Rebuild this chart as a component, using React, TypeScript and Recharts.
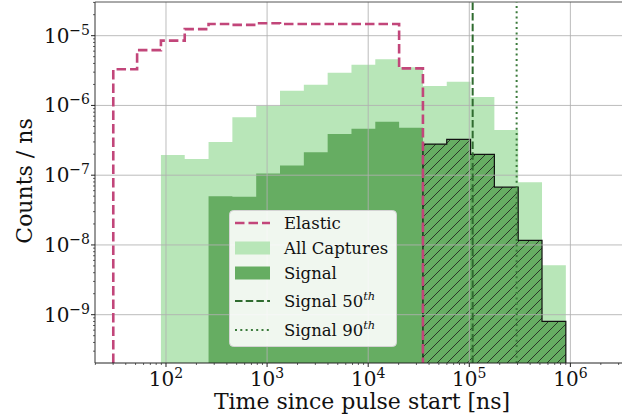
import { ComposedChart, Area, Line, XAxis, YAxis, ReferenceLine, Legend, Label } from "recharts";

const FONT = "DejaVu Serif, serif";

// histogram bin edges [ns], log spaced
const EDGES = [
  30.1, 51.8, 89.1, 153.2, 263.6, 453.5, 780.3, 1342, 2309, 3972, 6834, 11756, 20225, 34795, 59841,
  102944, 177096, 304660, 524117, 901571,
];

// counts / ns per bin (null = empty bin)
const ELASTIC = [
  3.3e-6, 6.2e-6, 8.5e-6, 1.24e-5, 1.47e-5, 1.43e-5, 1.51e-5, 1.47e-5, 1.47e-5, 1.47e-5, 1.47e-5, 1.47e-5,
  3.4e-6, null, null, null, null, null, null,
];
const ALL_CAPTURES = [
  null, null, 1.94e-7, 1.7e-7, 3.0e-7, 6.75e-7, 9.8e-7, 1.63e-6, 1.98e-6, 2.95e-6, 3.84e-6, 4.58e-6,
  3.52e-6, 1.9e-6, 2.19e-6, 1.32e-6, 4.43e-7, 7.9e-8, 5.1e-9,
];
const SIGNAL = [
  null, null, null, null, 5.0e-8, 4.9e-8, 1.06e-7, 1.38e-7, 2.14e-7, 3.89e-7, 4.63e-7, 5.83e-7, 4.79e-7,
  2.79e-7, 3.26e-7, 1.99e-7, 6.74e-8, 1.16e-8, 8.0e-10,
];
const HATCH_FROM_BIN = 13; // signal bins after the elastic cut are hatched

const SIGNAL_P50 = 1.08e5;
const SIGNAL_P90 = 2.94e5;

const X_MIN = 19.85;
const X_MAX = 3.24e6;
const Y_MIN = 2.03e-10;
const Y_MAX = 3.04e-5;

const X_MAJOR = [1e2, 1e3, 1e4, 1e5, 1e6];
const Y_MAJOR = [1e-9, 1e-8, 1e-7, 1e-6, 1e-5];

const PINK = "#c2467a";
const LIGHT_GREEN = "#b8e6b8";
const GREEN = "#66ad62";
const DARK_GREEN = "#2f6b2f";
const DOT_GREEN = "#3b7a3b";
const GRID = "#b0b0b0";

function logTicks(min: number, max: number) {
  const out: number[] = [];
  for (let d = Math.floor(Math.log10(min)); d <= Math.ceil(Math.log10(max)); d++) {
    for (let m = 1; m <= 9; m++) {
      const v = m * Math.pow(10, d);
      if (v >= min && v <= max) out.push(v);
    }
  }
  return out;
}

const isMajor = (v: number) => Math.abs(Math.log10(v) - Math.round(Math.log10(v))) < 1e-6;
const expOf = (v: number) => {
  const e = Math.round(Math.log10(v));
  return e < 0 ? `\u2212${-e}` : `${e}`;
};

// step outline points of one histogram, closed down to the axis bottom
function steps(values: (number | null)[], from = 0) {
  const pts: { t: number; v: number }[] = [];
  let last = -1;
  values.forEach((v, i) => {
    if (i < from || v == null) return;
    if (!pts.length) pts.push({ t: EDGES[i], v: Y_MIN });
    pts.push({ t: EDGES[i], v });
    last = i;
  });
  pts.push({ t: EDGES[last + 1], v: Y_MIN });
  return pts;
}

const elasticPts = steps(ELASTIC);
const allPts = steps(ALL_CAPTURES);
const signalPts = steps(SIGNAL);
const hatchPts = steps(SIGNAL, HATCH_FROM_BIN);

function XTick({ x, y, payload }: any) {
  const v = payload.value;
  const major = isMajor(v);
  return (
    <g>
      <line x1={x} x2={x} y1={y} y2={y + (major ? 4 : 2)} stroke="#222" strokeWidth={major ? 1 : 0.7} />
      {major && (
        <text x={x} y={y + 23} textAnchor="middle" fontFamily={FONT} fontSize={20} fill="#111">
          10<tspan dy={-8} fontSize={14}>{expOf(v)}</tspan>
        </text>
      )}
    </g>
  );
}

function YTick({ x, y, payload }: any) {
  const v = payload.value;
  const major = isMajor(v);
  return (
    <g>
      <line x1={x} x2={x - (major ? 4 : 2)} y1={y} y2={y} stroke="#222" strokeWidth={major ? 1 : 0.7} />
      {major && (
        <text x={x - 5} y={y + 7} textAnchor="end" fontFamily={FONT} fontSize={20} fill="#111">
          10<tspan dy={-8} fontSize={14}>{expOf(v)}</tspan>
        </text>
      )}
    </g>
  );
}

const LEGEND_ROWS = [
  { label: "Elastic", sup: "", kind: "dash", color: PINK, cy: 13 },
  { label: "All Captures", sup: "", kind: "patch", color: LIGHT_GREEN, cy: 38 },
  { label: "Signal", sup: "", kind: "patch", color: GREEN, cy: 63 },
  { label: "Signal 50", sup: "th", kind: "dash2", color: DARK_GREEN, cy: 91 },
  { label: "Signal 90", sup: "th", kind: "dot", color: DOT_GREEN, cy: 120 },
];

function LegendBox() {
  return (
    <svg width={168} height={137} style={{ display: "block" }}>
      <rect x={0.5} y={0.5} width={167} height={136} rx={4} fill="#fff" fillOpacity={0.9} stroke="#d4d4d4" />
      {LEGEND_ROWS.map((r) => (
        <g key={r.label}>
          {r.kind === "patch" && <rect x={6} y={r.cy - 6.5} width={35} height={13} fill={r.color} />}
          {r.kind === "dash" && (
            <line x1={6} x2={41} y1={r.cy} y2={r.cy} stroke={r.color} strokeWidth={2.6} strokeDasharray="9.5 4" />
          )}
          {r.kind === "dash2" && (
            <line x1={6} x2={41} y1={r.cy} y2={r.cy} stroke={r.color} strokeWidth={2} strokeDasharray="7.5 3.2" />
          )}
          {r.kind === "dot" && (
            <line x1={6} x2={41} y1={r.cy} y2={r.cy} stroke={r.color} strokeWidth={2} strokeDasharray="2 3.3" />
          )}
          <text x={55} y={r.cy + 6} fontFamily={FONT} fontSize={16.5} fill="#111">
            {r.label}
            {r.sup && (
              <tspan dy={-7} fontSize={11.5} fontStyle="italic">
                {r.sup}
              </tspan>
            )}
          </text>
        </g>
      ))}
    </svg>
  );
}

export default function App() {
  return (
    <div style={{ position: "absolute", left: 0, top: 0 }}>
      <ComposedChart width={622} height={419} margin={{ top: 2, right: 0, bottom: 0, left: 0 }}>
        <defs>
          <pattern id="hatch" patternUnits="userSpaceOnUse" width={10} height={10}>
            <path d="M-1,11 L11,-1 M-1,1 L1,-1 M9,11 L11,9" stroke="#1a1a1a" strokeWidth={0.8} />
          </pattern>
        </defs>
        <XAxis
          dataKey="t"
          type="number"
          scale="log"
          domain={[X_MIN, X_MAX]}
          allowDataOverflow
          ticks={logTicks(X_MIN, X_MAX)}
          interval={0}
          tick={<XTick />}
          tickLine={false}
          tickSize={0}
          tickMargin={0}
          height={56}
          axisLine={{ stroke: "#222", strokeWidth: 1 }}
        >
          <Label
            content={() => (
              <text x={362} y={409} textAnchor="middle" fontFamily={FONT} fontSize={22} fill="#111">
                Time since pulse start [ns]
              </text>
            )}
          />
        </XAxis>
        <YAxis
          dataKey="v"
          type="number"
          scale="log"
          domain={[Y_MIN, Y_MAX]}
          allowDataOverflow
          ticks={logTicks(Y_MIN, Y_MAX)}
          interval={0}
          tick={<YTick />}
          tickLine={false}
          tickSize={0}
          tickMargin={0}
          width={95}
          axisLine={{ stroke: "#333", strokeWidth: 1 }}
        >
          <Label
            content={() => (
              <text
                x={32}
                y={181}
                transform="rotate(-90 32 181)"
                textAnchor="middle"
                fontFamily={FONT}
                fontSize={22}
                fill="#111"
              >
                Counts / ns
              </text>
            )}
          />
        </YAxis>
        <Area data={allPts} dataKey="v" type="stepAfter" fill={LIGHT_GREEN} fillOpacity={1} stroke="none" isAnimationActive={false} />
        <Area data={signalPts} dataKey="v" type="stepAfter" fill={GREEN} fillOpacity={1} stroke="none" isAnimationActive={false} />
        <Area
          data={hatchPts}
          dataKey="v"
          type="stepAfter"
          fill="url(#hatch)"
          fillOpacity={1}
          stroke="#111"
          strokeWidth={1.2}
          isAnimationActive={false}
        />
        {X_MAJOR.map((x) => (
          <ReferenceLine key={`gx${x}`} x={x} stroke={GRID} strokeOpacity={0.85} strokeWidth={1} />
        ))}
        {Y_MAJOR.map((y) => (
          <ReferenceLine key={`gy${y}`} y={y} stroke={GRID} strokeOpacity={0.85} strokeWidth={1} />
        ))}
        <ReferenceLine y={Y_MAX} stroke="#555" strokeWidth={1} ifOverflow="extendDomain" />
        <Line
          data={elasticPts}
          dataKey="v"
          type="stepAfter"
          stroke={PINK}
          strokeWidth={2.6}
          strokeDasharray="9.5 4"
          dot={false}
          activeDot={false}
          isAnimationActive={false}
        />
        <ReferenceLine x={SIGNAL_P50} stroke={DARK_GREEN} strokeWidth={2} strokeDasharray="7.5 3.2" />
        <ReferenceLine x={SIGNAL_P90} stroke={DOT_GREEN} strokeWidth={2} strokeDasharray="2 3.3" />
        <Legend
          layout="vertical"
          align="center"
          verticalAlign="middle"
          content={() => <LegendBox />}
          wrapperStyle={{ position: "absolute", left: 229, top: 210, width: 168, height: 137 }}
        />
      </ComposedChart>
    </div>
  );
}
